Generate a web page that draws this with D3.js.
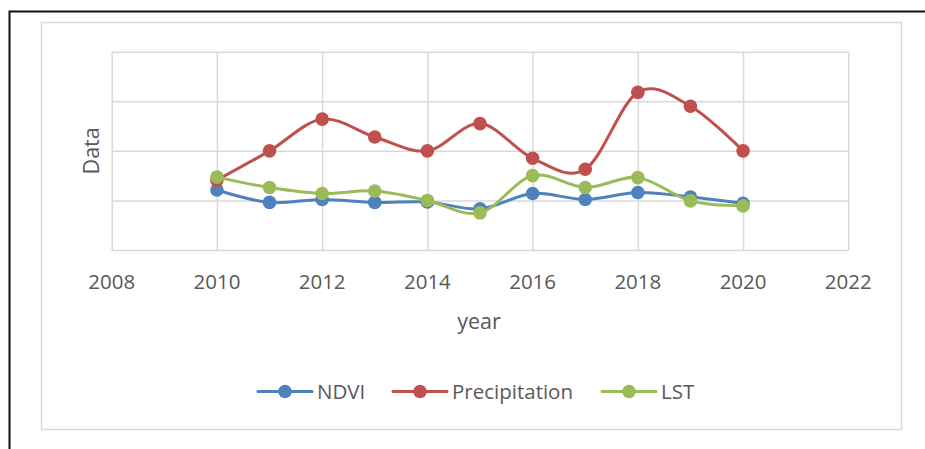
<!DOCTYPE html>
<html>
<head>
<meta charset="utf-8">
<script src="https://cdn.jsdelivr.net/npm/d3@7"></script>
<style>
  body { margin: 0; background: #fff; }
  svg { display: block; font-family: "Open Sans", Lato, sans-serif; }
</style>
</head>
<body>
<svg width="925" height="449"></svg>
<script>
// data (y axis has no labels, values in grid units)
const years = [2010, 2011, 2012, 2013, 2014, 2015, 2016, 2017, 2018, 2019, 2020]
const ndvi = [1.21, 0.96, 1.02, 0.96, 0.97, 0.83, 1.14, 1.02, 1.16, 1.07, 0.94]
const precipitation = [1.41, 2.0, 2.64, 2.28, 2.0, 2.55, 1.85, 1.63, 3.18, 2.90, 2.0]
const lst = [1.47, 1.26, 1.14, 1.19, 1.0, 0.75, 1.50, 1.26, 1.46, 0.99, 0.89]
const xTicks = [2008, 2010, 2012, 2014, 2016, 2018, 2020, 2022]
const yTicks = [0, 1, 2, 3, 4]

const series = [
  { name: "NDVI", values: ndvi, color: "#4F81BD" },
  { name: "Precipitation", values: precipitation, color: "#C0504D" },
  { name: "LST", values: lst, color: "#9BBB59" }
]

const svg = d3.select("svg")
const textColor = "#595959"
const gridColor = "#d9d9d9"

// outer black frame (cut at right and bottom)
svg.append("path")
  .attr("d", "M9.5,449 V11.5 H925")
  .attr("fill", "none")
  .attr("stroke", "#111")
  .attr("stroke-width", 2)

// chart area border
svg.append("rect")
  .attr("x", 41.5).attr("y", 22.5)
  .attr("width", 860).attr("height", 407)
  .attr("fill", "#fff")
  .attr("stroke", gridColor)
  .attr("stroke-width", 1.5)

const x = d3.scaleLinear().domain([2008, 2022]).range([111.7, 848.3])
const y = d3.scaleLinear().domain([0, 4]).range([250, 51.7])

// gridlines
const xAxis = d3.axisBottom(x).tickValues(xTicks).tickSize(-(y(0) - y(4))).tickFormat("")
svg.append("g")
  .attr("transform", `translate(0,${y(0)})`)
  .call(xAxis)
  .call(g => g.select(".domain").remove())
  .call(g => g.selectAll("line").attr("stroke", gridColor).attr("stroke-width", 1.5))

const yAxis = d3.axisLeft(y).tickValues(yTicks).tickSize(-(x(2022) - x(2008))).tickFormat("")
svg.append("g")
  .attr("transform", `translate(${x(2008)},0)`)
  .call(yAxis)
  .call(g => g.select(".domain").remove())
  .call(g => g.selectAll("line").attr("stroke", gridColor).attr("stroke-width", 1.5))

// x tick labels
svg.append("g")
  .selectAll("text")
  .data(xTicks)
  .join("text")
  .attr("x", d => x(d))
  .attr("y", 289)
  .attr("text-anchor", "middle")
  .attr("fill", textColor)
  .attr("font-size", 20.5)
  .text(d => d)

// axis titles
svg.append("text")
  .attr("x", 479).attr("y", 329)
  .attr("text-anchor", "middle")
  .attr("fill", textColor)
  .attr("font-size", 21.5)
  .text("year")

svg.append("text")
  .attr("transform", `translate(99,${(y(0) + y(4)) / 2}) rotate(-90)`)
  .attr("text-anchor", "middle")
  .attr("fill", textColor)
  .attr("font-size", 21.5)
  .text("Data")

// lines and markers
const line = d3.line()
  .x((d, i) => x(years[i]))
  .y(d => y(d))
  .curve(d3.curveCardinal.tension(0))

series.forEach(s => {
  const g = svg.append("g")
  g.append("path")
    .attr("d", line(s.values))
    .attr("fill", "none")
    .attr("stroke", s.color)
    .attr("stroke-width", 3)
    .attr("stroke-linecap", "round")
  g.selectAll("circle")
    .data(s.values)
    .join("circle")
    .attr("cx", (d, i) => x(years[i]))
    .attr("cy", d => y(d))
    .attr("r", 6.8)
    .attr("fill", s.color)
})

// legend
const legendPos = [258, 393, 602]
const legend = svg.append("g")
series.forEach((s, i) => {
  const lx = legendPos[i]
  legend.append("line")
    .attr("x1", lx).attr("x2", lx + 54)
    .attr("y1", 391.5).attr("y2", 391.5)
    .attr("stroke", s.color)
    .attr("stroke-width", 3)
    .attr("stroke-linecap", "round")
  legend.append("circle")
    .attr("cx", lx + 27).attr("cy", 391.5)
    .attr("r", 6.8)
    .attr("fill", s.color)
  legend.append("text")
    .attr("x", lx + 59).attr("y", 398.5)
    .attr("fill", textColor)
    .attr("font-size", 20.5)
    .text(s.name)
})
</script>
</body>
</html>
